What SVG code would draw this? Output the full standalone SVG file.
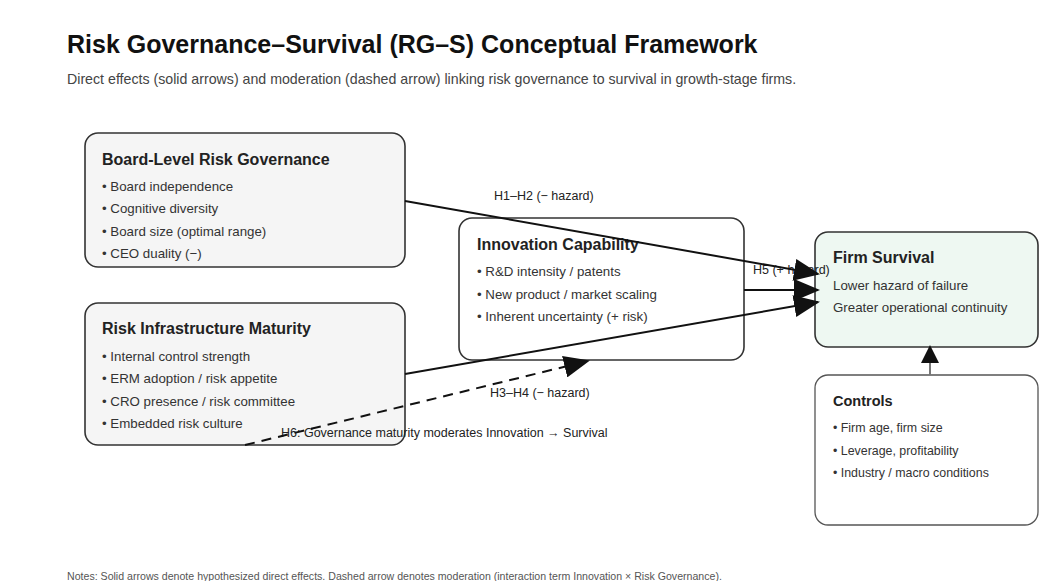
<svg xmlns="http://www.w3.org/2000/svg" width="1039" height="581" viewBox="0 0 1039 581">
  <style>
    text { font-family: "Liberation Sans", Arial, sans-serif; }
    .title { font-size: 25px; font-weight: bold; fill: #111; }
    .subtitle { font-size: 14.2px; fill: #444; }
    .note { font-size: 10.6px; fill: #555; }
    .box { fill: #f5f5f5; stroke: #333; stroke-width: 1.6; }
    .box-mid { fill: #ffffff; stroke: #333; stroke-width: 1.6; }
    .box-out { fill: #eef8f2; stroke: #333; stroke-width: 1.6; }
    .box-ctl { fill: #ffffff; stroke: #555; stroke-width: 1.3; }
    .head { font-size: 16px; font-weight: bold; fill: #222; }
    .item { font-size: 13.3px; fill: #333; }
    .item-sm { font-size: 12.4px; fill: #333; }
    .edge { stroke: #111; stroke-width: 2; fill: none; }
    .dash { stroke-dasharray: 10 7; }
    .lbl { font-size: 12.5px; fill: #222; }
  </style>
  <defs>
    <marker id="arrow" markerUnits="userSpaceOnUse" markerWidth="26" markerHeight="22" refX="24" refY="11" orient="auto">
      <path d="M0,0 L26,11 L0,22 Z" fill="#111"/>
    </marker>
    <marker id="arrow-sm" markerUnits="userSpaceOnUse" markerWidth="18" markerHeight="20" refX="17" refY="9" orient="auto">
      <path d="M0,0 L18,9 L0,18 Z" fill="#111"/>
    </marker>
  </defs>

  <rect width="1039" height="581" fill="#ffffff"/>

  <text class="title" x="67" y="53">Risk Governance–Survival (RG–S) Conceptual Framework</text>
  <text class="subtitle" x="67" y="84">Direct effects (solid arrows) and moderation (dashed arrow) linking risk governance to survival in growth-stage firms.</text>

  <!-- board-level governance -->
  <g id="board">
    <rect class="box" x="85" y="133" width="320" height="134" rx="13"/>
    <text class="head" x="102" y="165">Board-Level Risk Governance</text>
    <text class="item" x="102" y="191">• Board independence</text>
    <text class="item" x="102" y="213">• Cognitive diversity</text>
    <text class="item" x="102" y="236">• Board size (optimal range)</text>
    <text class="item" x="102" y="258">• CEO duality (−)</text>
  </g>

  <!-- risk infrastructure -->
  <g id="infrastructure">
    <rect class="box" x="85" y="303" width="320" height="142" rx="13"/>
    <text class="head" x="102" y="334">Risk Infrastructure Maturity</text>
    <text class="item" x="102" y="361">• Internal control strength</text>
    <text class="item" x="102" y="383">• ERM adoption / risk appetite</text>
    <text class="item" x="102" y="406">• CRO presence / risk committee</text>
    <text class="item" x="102" y="428">• Embedded risk culture</text>
  </g>

  <!-- innovation capability -->
  <g id="innovation">
    <rect class="box-mid" x="459" y="218" width="285" height="142" rx="13"/>
    <text class="head" x="477" y="250">Innovation Capability</text>
    <text class="item" x="477" y="276">• R&amp;D intensity / patents</text>
    <text class="item" x="477" y="299">• New product / market scaling</text>
    <text class="item" x="477" y="321">• Inherent uncertainty (+ risk)</text>
  </g>

  <!-- outcome -->
  <g id="survival">
    <rect class="box-out" x="815" y="232" width="223" height="115" rx="13"/>
    <text class="head" x="833" y="263">Firm Survival</text>
    <text class="item" x="833" y="290">Lower hazard of failure</text>
    <text class="item" x="833" y="312">Greater operational continuity</text>
  </g>

  <!-- controls -->
  <g id="controls">
    <rect class="box-ctl" x="815" y="375" width="223" height="150" rx="13"/>
    <text class="head" x="833" y="406" style="font-size:14.5px">Controls</text>
    <text class="item-sm" x="833" y="432">• Firm age, firm size</text>
    <text class="item-sm" x="833" y="455">• Leverage, profitability</text>
    <text class="item-sm" x="833" y="477">• Industry / macro conditions</text>
  </g>

  <!-- connectors: labels first, lines and arrowheads on top -->
  <g id="connectors">
    <text class="lbl" x="494" y="200">H1–H2 (− hazard)</text>
    <text class="lbl" x="753" y="274">H5 (+ hazard)</text>
    <text class="lbl" x="490" y="397">H3–H4 (− hazard)</text>
    <text class="lbl" x="281" y="437">H6: Governance maturity moderates Innovation → Survival</text>
    <line class="edge" x1="405" y1="201" x2="818" y2="274" marker-end="url(#arrow)"/>
    <line class="edge" x1="744" y1="290" x2="818" y2="290" marker-end="url(#arrow)"/>
    <line class="edge" x1="405" y1="374" x2="818" y2="302" marker-end="url(#arrow)"/>
    <line class="edge dash" x1="245" y1="445" x2="588" y2="361" marker-end="url(#arrow)"/>
    <line x1="930" y1="375" x2="930" y2="346" stroke="#777" stroke-width="2" marker-end="url(#arrow-sm)"/>
  </g>

  <text class="note" x="67" y="580">Notes: Solid arrows denote hypothesized direct effects. Dashed arrow denotes moderation (interaction term Innovation × Risk Governance).</text>
</svg>
